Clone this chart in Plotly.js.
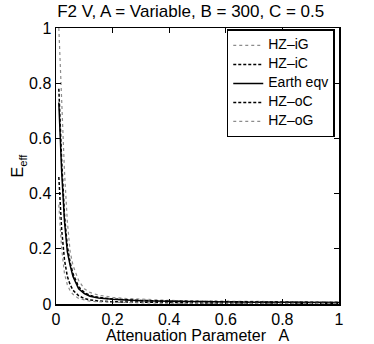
<!DOCTYPE html>
<html>
<head>
<meta charset="utf-8">
<script src="https://cdn.plot.ly/plotly-3.0.1.min.js"></script>
<style>
  html, body { margin: 0; padding: 0; background: #fff; }
  #chart { width: 374px; height: 344px; }
</style>
</head>
<body>
<div id="chart"></div>
<script>
"use strict";

// attenuation parameter samples
const attA = [0.01, 0.015, 0.02, 0.03, 0.04, 0.05, 0.06, 0.08, 0.1, 0.12, 0.15, 0.2, 0.25, 0.3, 0.4, 0.5, 0.6, 0.7, 0.8, 0.9, 1.0];

// E_eff
const hzIG  = [1.0, 0.85, 0.72, 0.48, 0.30, 0.19, 0.14, 0.085, 0.055, 0.042, 0.032, 0.024, 0.020, 0.017, 0.013, 0.011, 0.010, 0.009, 0.008, 0.007, 0.007];
const hzIC  = [0.78, 0.64, 0.52, 0.32, 0.21, 0.15, 0.11, 0.062, 0.042, 0.031, 0.024, 0.018, 0.015, 0.013, 0.010, 0.009, 0.008, 0.007, 0.006, 0.006, 0.005];
const earth = [0.73, 0.60, 0.48, 0.30, 0.19, 0.14, 0.10, 0.055, 0.038, 0.028, 0.022, 0.017, 0.014, 0.012, 0.010, 0.008, 0.007, 0.006, 0.006, 0.005, 0.005];
const hzOC  = [0.46, 0.36, 0.27, 0.16, 0.10, 0.07, 0.05, 0.03, 0.02, 0.015, 0.011, 0.008, 0.007, 0.006, 0.005, 0.004, 0.004, 0.003, 0.003, 0.003, 0.003];
const hzOG  = [0.36, 0.27, 0.20, 0.11, 0.07, 0.048, 0.035, 0.02, 0.014, 0.010, 0.008, 0.006, 0.005, 0.004, 0.003, 0.003, 0.002, 0.002, 0.002, 0.002, 0.002];

const names = ["HZ\u2013iG", "HZ\u2013iC", "Earth eqv", "HZ\u2013oC", "HZ\u2013oG"];
const series = [hzIG, hzIC, earth, hzOC, hzOG];
const styles = [
	{color: "rgb(140,140,140)", dash: "dot", width: 1.2},
	{color: "black", dash: "3px,2px", width: 1.5},
	{color: "black", dash: "solid", width: 1.5},
	{color: "black", dash: "3px,2px", width: 1.5},
	{color: "rgb(140,140,140)", dash: "dot", width: 1.2}
];

const FONT = "Liberation Sans, Arial, Helvetica, sans-serif";

//legend font is kept small so the rows pack tight, the span sets the real size
const traces = series.map((y, i) => ({
	x: attA, y: y,
	name: "<span style='font-size:14px'>" + names[i] + "</span>",
	type: "scatter",
	mode: "lines",
	line: styles[i]
}));

function axis(title){
	return {
		range: [0, 1],
		dtick: 0.2,
		ticks: "inside",
		ticklen: 5,
		tickwidth: 1,
		tickcolor: "black",
		showline: true,
		linecolor: "black",
		linewidth: 1.5,
		mirror: "ticks",
		showgrid: false,
		zeroline: false,
		tickfont: {family: FONT, size: 16, color: "black"},
		title: {text: title, font: {family: FONT, size: 16, color: "black"}}
	};
}

const layout = {
	width: 374, height: 344,
	margin: {l: 56, r: 35, t: 28, b: 40},
	paper_bgcolor: "white",
	plot_bgcolor: "white",
	title: {
		text: "F2 V, A = Variable, B = 300, C = 0.5",
		font: {family: FONT, size: 17, color: "black"},
		x: 0.51, xanchor: "center", y: 0.968, yanchor: "middle"
	},
	xaxis: axis("Attenuation Parameter   A"),
	yaxis: axis("E<sub>eff</sub>"),
	legend: {
		x: 0.985, y: 0.995, xanchor: "right", yanchor: "top",
		bgcolor: "white",
		bordercolor: "black",
		borderwidth: 1.5,
		font: {family: FONT, size: 10, color: "black"},
		itemwidth: 30,
		tracegroupgap: 0
	},
	showlegend: true
};

layout.xaxis.title.standoff = 0;
layout.yaxis.title.standoff = 1;

Plotly.newPlot("chart", traces, layout, {displayModeBar: false, staticPlot: true});
</script>
</body>
</html>
